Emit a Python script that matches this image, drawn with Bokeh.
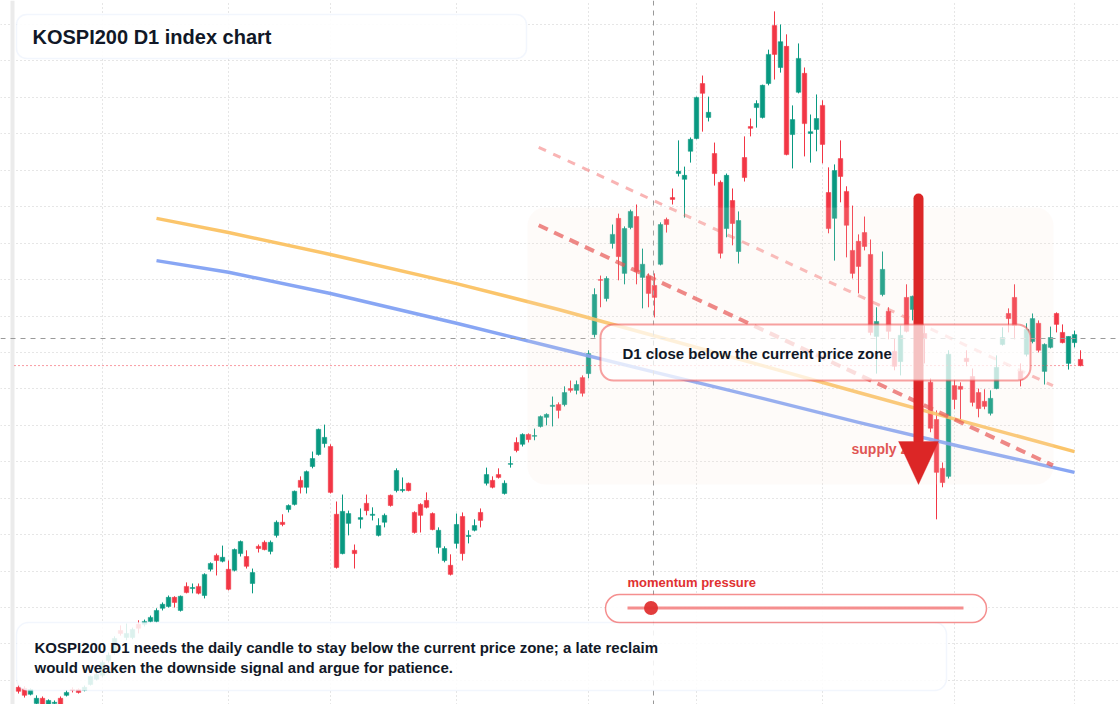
from bokeh.plotting import figure
from bokeh.models import (Range1d, BoxAnnotation, PolyAnnotation, Label, Span, Grid,
                          FixedTicker, ColumnDataSource)
from bokeh.embed import file_html
from bokeh.resources import INLINE
from bokeh.core.properties import value

# KOSPI200 daily candles, oldest first
opens = [318.1, 317.8, 316.2, 313.7, 315.1, 313.1, 313.7, 315.1, 315.9, 317.5,
         317.5, 317.3, 318.9, 320.3, 321.4, 325.5, 327.7, 333.7, 331.8, 331.8,
         335.4, 335.4, 336.2, 336.2, 339.8, 340.3, 342.8, 339.2, 345.8, 345.2,
         345.8, 343.3, 350.5, 354.3, 352.7, 350.5, 350.2, 354.8, 354.0, 346.6,
         356.8, 357.9, 355.4, 359.8, 363.4, 366.9, 368.3, 374.9, 373.0, 378.7,
         382.0, 385.0, 384.2, 365.6, 354.8, 363.1, 355.7, 364.2, 368.6, 365.3,
         359.8, 363.4, 370.8, 372.1, 372.1, 374.1, 366.1, 368.3, 369.4, 365.8,
         356.5, 352.9, 351.6, 357.6, 365.0, 359.5, 361.2, 366.1, 374.1, 374.9,
         376.5, 371.3, 379.3, 385.3, 384.8, 387.5, 387.0, 389.7, 392.2, 395.2,
         395.7, 395.7, 400.1, 399.6, 403.1, 404.2, 414.9, 430.0, 424.8, 439.9,
         446.8, 431.7, 444.3, 447.3, 430.6, 430.9, 428.4, 434.2, 446.5, 452.5,
         459.1, 457.5, 465.2, 468.7, 483.8, 474.5, 464.6, 456.7, 444.0, 451.7,
         437.7, 463.5, 472.0, 477.2, 474.5, 483.8, 499.7, 488.2, 494.0, 469.8,
         481.4, 486.6, 470.1, 471.2, 477.8, 453.9, 446.8, 463.2, 454.2, 438.0,
         440.5, 442.9, 436.9, 414.4, 425.9, 421.3, 410.3, 407.5, 425.1, 421.8,
         424.3, 415.2, 401.8, 391.6, 378.2, 376.0, 400.9, 400.7, 408.4, 403.4,
         399.0, 396.6, 393.3, 400.1, 412.2, 420.7, 425.1, 404.8, 409.5, 413.0,
         418.0, 404.8, 411.4, 420.7, 415.5, 407.0, 412.7, 408.1]
highs = [318.6, 318.4, 317.8, 315.9, 315.6, 314.8, 314.5, 315.6, 317.3, 318.1,
         317.8, 318.6, 321.4, 322.2, 325.5, 327.7, 332.1, 335.1, 335.6, 334.5,
         336.5, 336.7, 337.8, 339.8, 341.4, 343.3, 343.1, 343.3, 346.9, 346.6,
         346.6, 349.4, 352.4, 354.8, 357.0, 352.9, 356.2, 358.4, 355.7, 350.7,
         357.3, 358.4, 358.4, 363.9, 365.6, 368.3, 372.1, 376.0, 377.6, 382.8,
         389.1, 390.2, 384.8, 369.1, 371.0, 366.6, 357.3, 367.2, 371.0, 367.5,
         364.5, 365.8, 371.0, 378.2, 375.7, 374.3, 366.4, 368.6, 371.6, 366.1,
         362.0, 356.8, 354.6, 365.8, 366.1, 361.2, 364.2, 367.2, 378.4, 376.0,
         378.2, 374.9, 381.5, 386.7, 387.8, 387.8, 389.1, 392.7, 393.3, 397.9,
         396.3, 400.7, 402.3, 402.3, 403.7, 410.6, 427.6, 431.1, 430.9, 445.1,
         448.1, 444.6, 449.2, 450.6, 438.5, 431.7, 431.7, 445.7, 447.0, 455.0,
         468.2, 461.0, 469.0, 480.2, 486.0, 480.2, 467.6, 457.2, 459.1, 455.0,
         448.7, 469.3, 474.2, 479.2, 483.5, 493.1, 503.6, 500.0, 497.3, 477.8,
         494.8, 488.2, 475.3, 480.8, 479.2, 460.8, 461.6, 468.2, 455.6, 450.3,
         442.4, 447.3, 441.0, 422.4, 437.7, 422.4, 413.8, 417.4, 428.7, 425.6,
         427.0, 417.4, 402.9, 394.1, 379.8, 410.6, 402.6, 401.8, 410.6, 405.6,
         400.1, 399.9, 399.6, 409.2, 416.9, 422.1, 428.7, 407.0, 418.0, 420.7,
         418.8, 412.5, 417.1, 421.0, 417.7, 414.4, 416.0, 410.6]
lows = [316.4, 315.3, 315.9, 313.1, 312.9, 312.6, 312.9, 312.9, 315.6, 316.7,
        316.4, 317.0, 318.6, 320.0, 320.8, 324.9, 327.1, 332.3, 331.0, 331.3,
        332.9, 334.8, 335.9, 335.9, 339.2, 340.0, 340.0, 338.9, 343.9, 343.9,
        343.6, 342.5, 349.9, 348.8, 352.4, 344.7, 349.9, 354.0, 350.7, 343.9,
        355.1, 355.7, 354.6, 359.2, 362.3, 366.1, 368.0, 371.3, 371.3, 378.2,
        381.7, 383.9, 371.3, 350.7, 354.6, 359.8, 350.7, 361.7, 365.3, 363.9,
        359.5, 362.0, 367.7, 371.6, 371.6, 371.9, 360.3, 360.6, 367.2, 361.2,
        354.8, 352.4, 348.8, 356.2, 352.9, 357.6, 360.9, 362.0, 373.5, 372.7,
        375.4, 371.0, 378.4, 382.6, 384.2, 385.3, 385.9, 389.4, 390.0, 389.7,
        391.9, 395.2, 399.0, 398.5, 397.9, 402.9, 414.1, 422.4, 424.0, 438.5,
        429.8, 428.7, 443.8, 428.7, 422.1, 422.4, 419.6, 433.9, 442.9, 450.6,
        458.3, 447.0, 462.1, 468.5, 470.6, 473.4, 455.8, 435.8, 441.6, 439.4,
        434.4, 456.9, 469.3, 471.7, 474.2, 483.3, 484.9, 486.8, 464.1, 460.5,
        481.1, 463.8, 462.1, 465.2, 461.9, 442.7, 435.2, 451.2, 436.1, 430.3,
        426.2, 438.0, 414.7, 404.2, 425.4, 413.6, 405.1, 403.7, 415.5, 418.8,
        411.9, 407.0, 388.1, 364.2, 373.0, 375.4, 394.4, 391.3, 406.2, 395.2,
        392.2, 394.4, 392.7, 399.9, 411.9, 415.5, 413.6, 400.7, 408.9, 412.5,
        410.0, 401.2, 411.1, 415.5, 412.5, 405.3, 411.4, 406.2]
closes = [317.0, 315.9, 317.5, 315.1, 313.4, 314.5, 314.0, 313.4, 316.7, 317.3,
          316.7, 318.1, 321.1, 321.6, 324.9, 326.9, 331.5, 332.9, 332.9, 334.0,
          334.3, 336.2, 337.3, 339.2, 340.9, 342.8, 341.4, 343.1, 344.1, 345.5,
          343.9, 349.1, 352.1, 352.9, 353.8, 345.0, 355.9, 358.1, 351.3, 349.6,
          356.2, 355.9, 357.9, 363.4, 362.8, 368.0, 371.9, 373.0, 377.3, 380.9,
          388.9, 386.7, 371.6, 351.0, 366.4, 365.8, 354.8, 364.7, 366.6, 365.6,
          362.5, 365.3, 368.0, 377.6, 372.4, 372.1, 360.6, 365.3, 367.5, 361.4,
          361.2, 356.2, 349.1, 362.8, 354.8, 359.8, 362.5, 363.9, 376.5, 373.0,
          375.7, 374.1, 379.5, 383.1, 387.5, 386.1, 387.2, 392.4, 393.0, 395.5,
          394.1, 399.0, 399.6, 401.2, 398.8, 409.7, 425.9, 429.8, 430.3, 442.4,
          436.3, 444.0, 448.7, 432.2, 434.2, 426.2, 425.1, 445.1, 445.1, 452.0,
          459.7, 458.6, 468.5, 480.0, 481.1, 475.9, 459.1, 437.2, 458.6, 445.4,
          446.2, 458.0, 471.5, 478.3, 483.3, 491.8, 491.8, 495.3, 464.3, 473.9,
          490.7, 472.8, 470.6, 474.2, 467.1, 444.0, 459.9, 458.3, 444.9, 431.7,
          433.6, 439.1, 415.5, 418.5, 432.8, 415.8, 406.2, 414.7, 415.8, 425.4,
          414.7, 413.8, 389.2, 377.1, 374.3, 409.5, 397.1, 399.9, 407.5, 396.3,
          394.6, 395.2, 397.4, 405.9, 414.1, 419.3, 417.4, 402.6, 416.3, 419.3,
          410.6, 412.2, 414.1, 417.7, 412.7, 414.4, 414.9, 406.4]

# first trading day of each month (bar index) and price grid levels
month_starts = [14, 35, 52, 73, 95, 113, 134, 156, 176]
price_levels = [320, 330, 340, 350, 360, 370, 380, 390, 400, 410,
                420, 430, 440, 450, 460, 470, 480, 490, 500]

# two moving averages drawn on the chart
ma_x = [23, 35, 52, 73, 90, 107, 124, 140, 157, 176]
ma_long = [446.8, 442.9, 436.9, 428.9, 421.8, 414.1, 406.4, 399.0, 391.3, 382.8]
ma_short = [435.2, 432.0, 426.2, 418.0, 411.1, 404.2, 397.4, 390.8, 384.2, 377.1]

# falling trend lines from the top
trend_x = [86.7, 172.4]
trend_upper = [466.3, 400.9]
trend_lower = [444.9, 379.0]

momentum_pressure = 0.07   # share of the gauge

# page pixel -> data helpers (for placing the overlay boxes)
OX, OY, W, H = 0, 0, 1120, 704


def dx(px):
    return (px - 18) / 6.0


def dy(py):
    return 500 - (py - 24) / 3.644


GREEN, RED = "#089981", "#f23645"
ARROW = "#dc2626"
FONT = "Liberation Sans"
INK = "#111827"

idx = list(range(len(closes)))
cols = [GREEN if c >= o else RED for o, c in zip(opens, closes)]
src = ColumnDataSource(dict(
    x=idx, high=highs, low=lows,
    top=[max(o, c) for o, c in zip(opens, closes)],
    bottom=[min(o, c) for o, c in zip(opens, closes)],
    color=cols))

p = figure(width=W, height=H, x_range=Range1d(dx(OX), dx(OX + W)),
           y_range=Range1d(dy(OY + H), dy(OY)),
           x_axis_location=None, y_axis_location=None,
           toolbar_location=None, output_backend="svg", min_border=0)
p.outline_line_color = None
p.background_fill_color = "white"
p.border_fill_color = "white"
for r in list(p.center):
    if isinstance(r, Grid):
        r.visible = False
p.add_layout(Grid(dimension=0, ticker=FixedTicker(ticks=month_starts),
                  grid_line_color="#cccccc", grid_line_dash="1 3"))
p.add_layout(Grid(dimension=1, ticker=FixedTicker(ticks=price_levels),
                  grid_line_color="#cccccc", grid_line_dash="1 3"))
p.add_layout(BoxAnnotation(left=dx(10), right=dx(14), fill_color="#ebebeb",
                           fill_alpha=1, line_color=None, level="underlay"))

# candles
p.segment("x", "high", "x", "low", source=src, color="color", line_width=1)
p.vbar(x="x", width=0.75, top="top", bottom="bottom", source=src,
       fill_color="color", line_color="color", line_width=0.5)

# last close price line
p.line([dx(14), dx(1083)], [closes[-1], closes[-1]], line_color=RED,
       line_width=1, line_dash="1 3")

# averages and trend lines
p.line(ma_x, ma_long, line_color="#fbbf5b", line_width=3.5, line_alpha=0.9,
       line_join="round")
p.line(ma_x, ma_short, line_color="#7b9cf3", line_width=3.5, line_alpha=0.9,
       line_join="round")
p.line(trend_x, trend_upper, line_color="#ef4444", line_alpha=0.4,
       line_width=3, line_dash="8 8")
p.line(trend_x, trend_lower, line_color="#e53e3e", line_alpha=0.7,
       line_width=4, line_dash="10 7")

p.text(x=[dx(851)], y=[dy(448)], text=["supply zone"], text_font=value(FONT),
       text_font_style="bold", text_font_size="14px", text_color="#dc3c3c",
       text_baseline="middle")

# crosshair
p.add_layout(Span(location=dx(653), dimension="height", line_color="#999999",
                  line_dash="5 5", line_width=1))
p.add_layout(Span(location=dy(338), dimension="width", line_color="#999999",
                  line_dash="5 5", line_width=1))

# supply zone shading
p.add_layout(BoxAnnotation(left=dx(527), right=dx(1053), top=dy(207), bottom=dy(484),
                           fill_color="#f5e6d8", fill_alpha=0.15, line_color=None,
                           border_radius=18))

# big down arrow
p.add_layout(BoxAnnotation(left=dx(913), right=dx(923), top=dy(193), bottom=dy(445),
                           fill_color=ARROW, fill_alpha=1, line_color=None,
                           border_radius=5))
p.add_layout(PolyAnnotation(xs=[dx(898), dx(938), dx(918)],
                            ys=[dy(441), dy(441), dy(484)],
                            fill_color=ARROW, fill_alpha=1, line_color=ARROW,
                            line_width=1))

# overlay boxes
p.add_layout(BoxAnnotation(left=dx(16), right=dx(526), top=dy(14), bottom=dy(58),
                           fill_color="white", fill_alpha=0.92, line_color="#d3e1fa",
                           line_width=1.5, border_radius=10))
p.add_layout(BoxAnnotation(left=dx(600), right=dx(1030), top=dy(324), bottom=dy(380),
                           fill_color="white", fill_alpha=0.72, line_color="#ef4444",
                           line_alpha=0.5, line_width=2, border_radius=13))
p.add_layout(BoxAnnotation(left=dx(16), right=dx(946), top=dy(622), bottom=dy(690),
                           fill_color="white", fill_alpha=0.86, line_color="#d3e1fa",
                           line_width=1.5, border_radius=12))
p.add_layout(BoxAnnotation(left=dx(605), right=dx(986), top=dy(594), bottom=dy(622),
                           fill_color="white", fill_alpha=0.9, line_color="#ef4444",
                           line_alpha=0.6, line_width=1.5, border_radius=14))
track_l, track_r = 627, 963
p.add_layout(BoxAnnotation(left=dx(track_l), right=dx(track_r), top=dy(606), bottom=dy(609),
                           fill_color="#ef4444", fill_alpha=0.6, line_color=None))
dot = track_l + momentum_pressure * (track_r - track_l)
p.add_layout(BoxAnnotation(left=dx(dot - 7), right=dx(dot + 7), top=dy(600.5),
                           bottom=dy(614.5), fill_color="#e03131", fill_alpha=0.95,
                           line_color=None, border_radius=7))

# texts
def label(px, py, txt, size, color=INK):
    p.add_layout(Label(x=dx(px), y=dy(py), text=txt, text_font=FONT,
                       text_font_style="bold", text_font_size=size,
                       text_color=color, text_baseline="middle"))


label(32, 36, "KOSPI200 D1 index chart", "20px")
label(622, 353, "D1 close below the current price zone", "15px")
label(34, 647, "KOSPI200 D1 needs the daily candle to stay below the current price zone; a late reclaim", "15px")
label(34, 667, "would weaken the downside signal and argue for patience.", "15px")
label(627, 582, "momentum pressure", "13px", "#e03131")

open("out.html", "w").write(file_html(p, INLINE))
